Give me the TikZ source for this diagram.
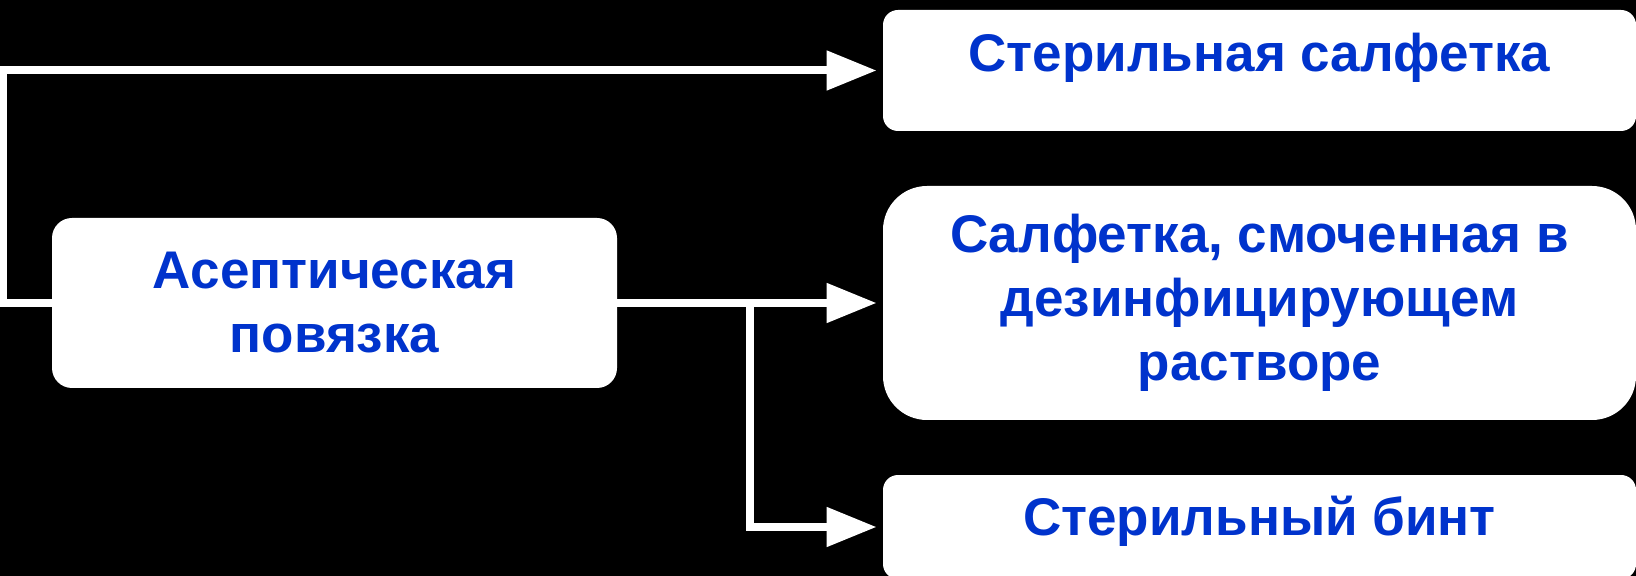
\documentclass[tikz,border=0pt]{standalone}
\usepackage{fontspec}
\setmainfont{Liberation Sans}
\usepackage{xcolor}
\usepackage{tikz}
\usetikzlibrary{arrows.meta}
\usetikzlibrary{positioning}
\definecolor{boxblue}{RGB}{0,51,204}
\tikzstyle{box}=[rectangle,fill=white,draw=none,inner sep=0pt,align=center,text=boxblue,font=\bfseries\fontsize{26.5}{32}\selectfont]
\tikzstyle{link}=[draw=white,line width=4pt,line join=miter,-{Triangle[length=25pt,width=19pt]},shorten >=3pt]

\begin{document}
\begin{tikzpicture}[x=0.5pt,y=-0.5pt]

  \fill[black] (0,0) rectangle (1636,576);
  \useasboundingbox (0,0) rectangle (1636,576);

  % left box
  \node[box,rounded corners=10pt,minimum width=282.5pt,minimum height=85pt] (asept) at (334.5,303) {Асептическая\\повязка};

  % right column
  \node[box,rounded corners=7.5pt,minimum width=376.5pt,minimum height=60.5pt,text height=31pt,text depth=29.5pt] (napkin) at (1259.5,70.5) {Стерильная салфетка};
  \node[box,rounded corners=22pt,minimum width=376.5pt,minimum height=117pt] (wet) at (1259.5,303) {Салфетка, смоченная в\\дезинфицирующем\\растворе};
  \node[box,rounded corners=7.5pt,minimum width=376.5pt,minimum height=52pt,text height=30pt,text depth=22pt] (bandage) at (1259.5,527) {Стерильный бинт};

  \coordinate (fork) at (750,303);

  \draw[link] (asept.west) -- ++(-49,0) |- (napkin.west);
  \draw[link] (asept.east) -- (wet.west);
  \draw[link] (fork) |- (bandage.west);

\end{tikzpicture}
\end{document}
